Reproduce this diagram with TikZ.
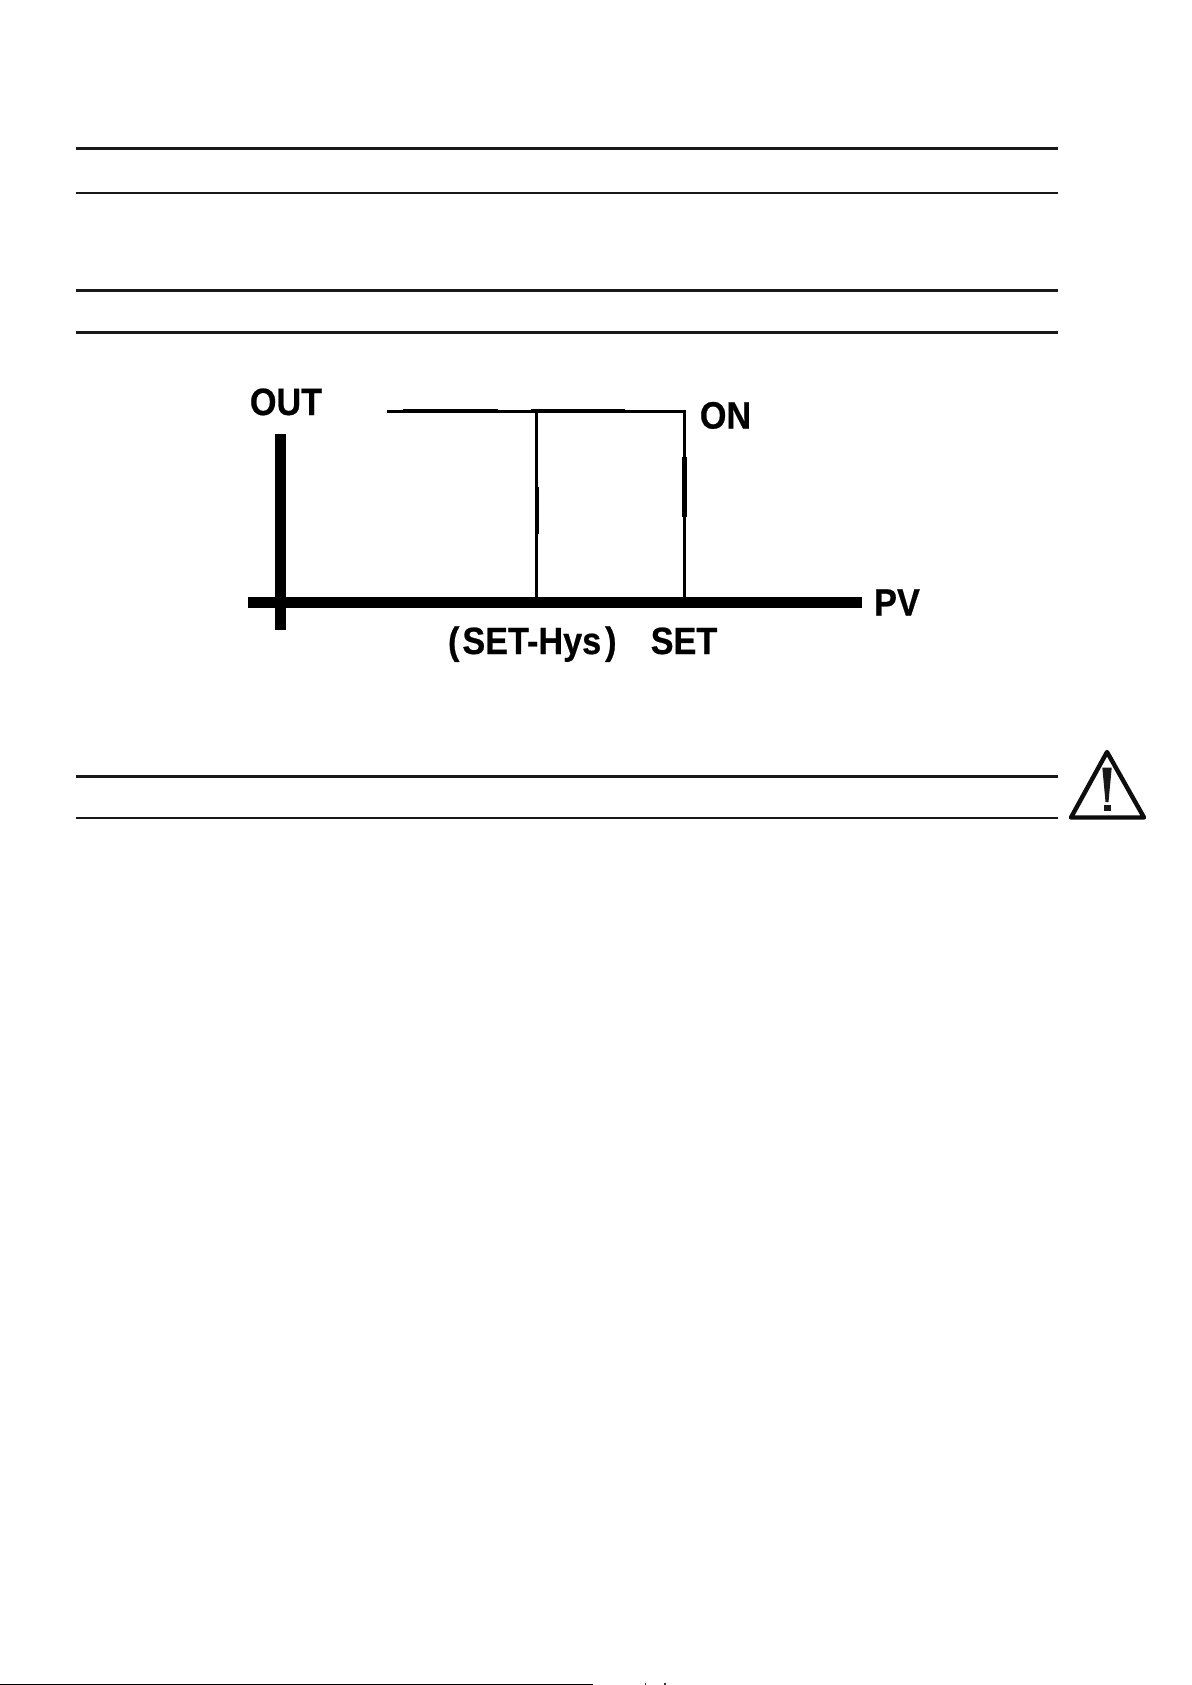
\documentclass[tikz,border=0pt]{standalone}
\usepackage{fontspec}
\setmainfont{Liberation Sans}
\newfontfamily\lab[FakeStretch=0.9,FakeBold=0.6]{Liberation Sans Bold}
\tikzset{
  rulerline/.style={line width=2.6pt,black!90},
  axisline/.style={line width=10.4pt,black},
  traceline/.style={line width=3.6pt,black,line cap=butt},
  thicktrace/.style={line width=4.6pt,black},
  lbl/.style={font=\lab\fontsize{38}{38}\selectfont,inner sep=0pt,text=black,anchor=base},
  warn/.style={line width=4.4pt,line join=round,black!95}
}
\begin{document}
\begin{tikzpicture}[x=1pt,y=-1pt]
\useasboundingbox (0,0) rectangle (1191,1685);
\fill[white] (0,0) rectangle (1191,1685);
% horizontal rules
\foreach \yy/\nm in {148.5/a,193.2/b,290.3/c,332.3/d,776.3/e,817.9/f}{
  \coordinate (L\nm) at (75.5,\yy);
  \coordinate (R\nm) at (1058,\yy);
  \draw[rulerline] (L\nm) -- (R\nm);
}
\coordinate (BL) at (0,1684.4);
\coordinate (BR) at (593,1684.4);
\draw[line width=1.6pt,black] (BL) -- (BR);
\coordinate (m1a) at (645.5,1683.4);
\coordinate (m1b) at (645.5,1685);
\coordinate (m2a) at (665,1683.4);
\coordinate (m2b) at (665,1685);
\draw[line width=1.2pt,black!80] (m1a) -- (m1b);
\draw[line width=2pt,black!80] (m2a) -- (m2b);
% axes
\coordinate (Ytop) at (280.6,434.3);
\coordinate (Ybot) at (280.6,630);
\coordinate (Xl) at (247.6,602.3);
\coordinate (Xr) at (862,602.3);
\draw[axisline] (Ytop) -- (Ybot);
\draw[axisline] (Xl) -- (Xr);
% trace
\coordinate (Ts) at (387,411.5);
\coordinate (Th) at (536.5,411.5);
\coordinate (Tr) at (685.8,411.5);
\coordinate (Bh) at (536.5,598);
\coordinate (Br) at (684.5,598);
\coordinate (Tv) at (684.5,411.5);
\draw[traceline] (Ts) -- (Tr);
\draw[traceline] (Th) -- (Bh);
\draw[traceline] (Tv) -- (Br);
\coordinate (s1) at (403,411);
\coordinate (s2) at (498,411);
\coordinate (s3) at (531,410.8);
\coordinate (s4) at (625,410.8);
\draw[thicktrace] (s1) -- (s2);
\draw[line width=3.8pt] (s3) -- (s4);
\coordinate (s5) at (537.3,487);
\coordinate (s6) at (537.3,534);
\coordinate (s7) at (684.5,457);
\coordinate (s8) at (684.5,517);
\draw[line width=3.8pt] (s5) -- (s6);
\draw[line width=4.2pt] (s7) -- (s8);
% labels
\node[lbl] (out) at (286,415) {OUT};
\node[lbl] (on) at (725.5,428.5) {ON};
\node[lbl] (pv) at (897,615.5) {PV};
\node[lbl] (hys) at (532.3,654) {(\kern3ptSET-Hys\kern4pt)};
\node[lbl] (set) at (684,654) {SET};
% warning sign
\coordinate (ta) at (1107,752);
\coordinate (tl) at (1071,817.5);
\coordinate (tr) at (1144,817.5);
\draw[warn] (ta) -- (tr) -- (tl) -- cycle;
\fill[black!90] (1102.3,767.5) -- (1111.7,767.5) -- (1108.5,802) -- (1105.5,802) -- cycle;
\fill[black!90] (1103.5,805) rectangle (1110.5,811);
\end{tikzpicture}
\end{document}
